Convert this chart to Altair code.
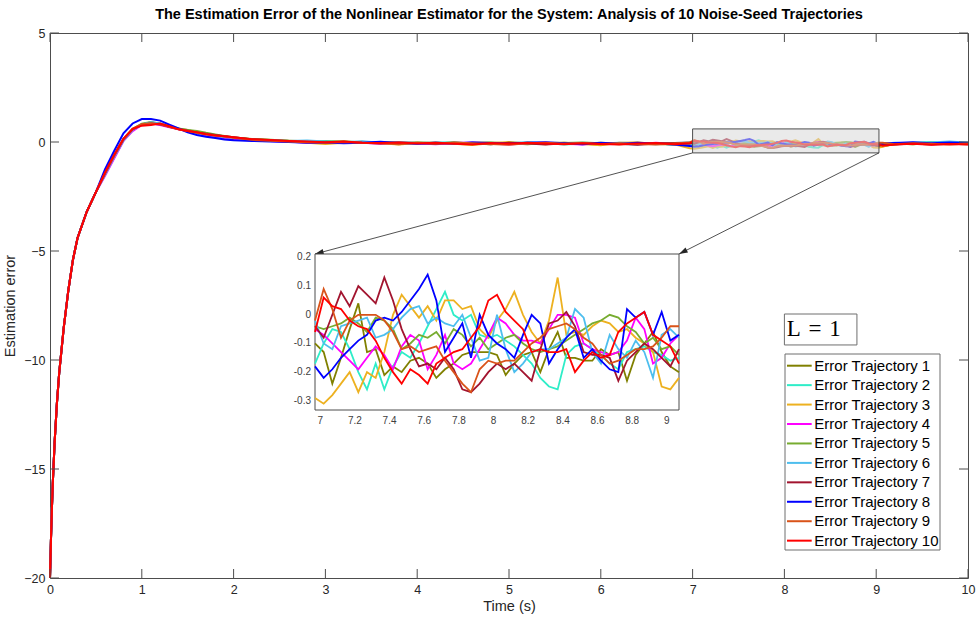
import math
import altair as alt
import pandas as pd

# ---------------- data ----------------
NAMES = [f"Error Trajectory {i}" for i in range(1, 11)]
COLORS = ["#808000", "#2EEDC8", "#EDB120", "#FF00FF", "#77AC30",
          "#4DBEEE", "#A2142F", "#0000FF", "#D95319", "#FF0000"]

# common initial transient (all trajectories start at -20)
HEAD_T = [0, 0.01, 0.02, 0.03, 0.05, 0.075, 0.1, 0.15, 0.2, 0.25, 0.3, 0.4, 0.5]
HEAD_E = [-20, -18.3, -16.9, -15.7, -13.8, -12.0, -10.6, -8.5, -6.8, -5.4, -4.4, -3.2, -2.3]

RISE_T = [0.6, 0.7, 0.8, 0.9, 1.0, 1.1, 1.2, 1.3, 1.4, 1.5, 1.6, 1.7, 1.8, 1.9, 2.0]
RISE = [
    [-1.45, -0.65, 0.10, 0.55, 0.80, 0.90, 0.82, 0.70, 0.60, 0.55, 0.45, 0.38, 0.30, 0.25, 0.20],
    [-1.50, -0.70, 0.05, 0.55, 0.78, 0.85, 0.80, 0.72, 0.60, 0.50, 0.42, 0.35, 0.30, 0.22, 0.18],
    [-1.45, -0.60, 0.12, 0.60, 0.82, 0.88, 0.85, 0.70, 0.62, 0.52, 0.45, 0.36, 0.30, 0.26, 0.20],
    [-1.55, -0.75, 0.05, 0.50, 0.78, 0.86, 0.78, 0.68, 0.58, 0.50, 0.40, 0.30, 0.22, 0.18, 0.12],
    [-1.40, -0.62, 0.15, 0.60, 0.84, 0.92, 0.84, 0.75, 0.62, 0.55, 0.50, 0.42, 0.35, 0.28, 0.22],
    [-1.50, -0.68, 0.08, 0.55, 0.80, 0.90, 0.85, 0.72, 0.60, 0.50, 0.40, 0.34, 0.28, 0.22, 0.20],
    [-1.45, -0.62, 0.12, 0.58, 0.80, 0.85, 0.80, 0.70, 0.60, 0.52, 0.44, 0.38, 0.32, 0.26, 0.22],
    [-1.25, -0.40, 0.40, 0.85, 1.05, 1.05, 0.98, 0.80, 0.62, 0.45, 0.32, 0.24, 0.18, 0.12, 0.08],
    [-1.42, -0.60, 0.15, 0.60, 0.82, 0.86, 0.82, 0.70, 0.58, 0.50, 0.42, 0.36, 0.30, 0.25, 0.20],
    [-1.40, -0.58, 0.15, 0.60, 0.75, 0.78, 0.85, 0.72, 0.58, 0.50, 0.45, 0.36, 0.30, 0.26, 0.22],
]

NOISE_T = [round(2.2 + 0.2 * k, 2) for k in range(24)]
NOISE = [
    [0.14, 0.09, 0.06, 0.03, 0.01, -0.02, 0.00, -0.04, -0.07, -0.03, -0.05, -0.09, -0.04, -0.02, -0.06, -0.10, -0.05, -0.03, -0.08, -0.11, -0.06, -0.04, -0.09, -0.12],
    [0.10, 0.06, 0.04, 0.00, 0.05, -0.01, -0.05, 0.00, -0.04, -0.08, -0.03, -0.01, -0.07, -0.04, -0.09, -0.02, -0.05, -0.11, -0.07, -0.03, -0.08, -0.12, -0.05, -0.13],
    [0.12, 0.07, 0.02, -0.03, -0.09, -0.04, 0.01, -0.06, -0.12, -0.05, -0.02, -0.08, -0.14, -0.06, 0.00, -0.07, -0.10, -0.03, -0.09, -0.15, -0.04, -0.02, -0.08, -0.10],
    [0.08, 0.05, 0.01, -0.02, -0.05, -0.01, -0.04, -0.08, -0.03, -0.06, -0.10, -0.05, -0.02, -0.07, -0.11, -0.06, -0.03, -0.08, -0.12, -0.05, -0.07, -0.10, -0.04, -0.09],
    [0.13, 0.10, 0.06, 0.04, 0.02, 0.03, -0.02, -0.01, -0.05, -0.02, -0.06, -0.03, -0.07, -0.10, -0.04, -0.06, -0.09, -0.05, -0.02, -0.06, -0.10, -0.07, -0.05, -0.08],
    [0.11, 0.08, 0.05, 0.07, 0.02, -0.01, 0.03, -0.03, -0.01, -0.05, -0.02, -0.06, -0.03, -0.08, -0.05, -0.01, -0.06, -0.09, -0.04, -0.07, -0.03, -0.06, -0.10, -0.05],
    [0.12, 0.08, 0.03, 0.00, -0.03, 0.01, -0.04, -0.07, -0.02, -0.05, -0.09, -0.04, -0.06, -0.10, -0.03, -0.07, -0.12, -0.06, -0.09, -0.04, -0.08, -0.13, -0.07, -0.05],
    [0.05, 0.02, 0.00, -0.04, -0.02, -0.06, -0.03, 0.01, -0.05, -0.08, -0.04, -0.07, -0.02, -0.05, -0.09, -0.04, -0.01, -0.06, -0.10, -0.05, -0.08, -0.03, -0.07, -0.11],
    [0.10, 0.06, 0.02, -0.01, -0.04, 0.00, -0.03, -0.06, -0.10, -0.04, -0.07, -0.02, -0.06, -0.09, -0.13, -0.06, -0.04, -0.08, -0.05, -0.10, -0.06, -0.09, -0.12, -0.07],
    [0.13, 0.09, 0.05, 0.02, -0.01, 0.02, -0.03, -0.05, -0.02, -0.07, -0.04, -0.08, -0.11, -0.05, -0.08, -0.03, -0.07, -0.10, -0.06, -0.09, -0.12, -0.07, -0.05, -0.10],
]

# zoomed window (also shown in the inset)
ZOOM_T = [round(6.97 + 0.05 * k, 2) for k in range(43)]
ZOOM = [
    [-0.10, -0.13, -0.24, -0.15, -0.05, 0.04, -0.13, -0.12, -0.21, -0.18, -0.20, -0.16, -0.15, -0.17, -0.22, -0.19, -0.17, -0.14, -0.13, -0.13, -0.13, -0.14, -0.21, -0.17, -0.14, -0.13, -0.20, -0.12, -0.06, -0.15, -0.15, -0.16, -0.16, -0.12, -0.14, -0.13, -0.23, -0.14, -0.10, -0.06, -0.13, -0.18, -0.20],
    [-0.17, -0.10, -0.05, -0.06, -0.12, -0.20, -0.26, -0.17, -0.26, -0.18, -0.13, -0.15, -0.10, -0.04, 0.02, 0.08, 0.00, -0.02, 0.00, -0.07, -0.08, -0.07, -0.09, -0.11, -0.14, -0.17, -0.22, -0.25, -0.26, -0.14, -0.11, -0.10, -0.12, -0.14, -0.17, -0.19, -0.13, -0.12, -0.11, -0.13, -0.14, -0.16, -0.15],
    [-0.29, -0.31, -0.28, -0.24, -0.20, -0.27, -0.20, -0.22, -0.13, 0.00, 0.07, 0.03, -0.01, 0.03, -0.02, 0.05, 0.05, 0.02, 0.03, -0.05, -0.08, -0.02, 0.02, 0.08, 0.00, -0.06, -0.10, -0.02, 0.13, -0.07, -0.06, -0.07, -0.04, -0.02, -0.03, -0.06, -0.05, -0.08, -0.10, -0.13, -0.25, -0.26, -0.22],
    [-0.05, -0.07, -0.10, -0.13, -0.16, -0.19, -0.15, -0.11, -0.14, -0.19, -0.11, -0.07, -0.09, -0.19, -0.14, -0.07, -0.17, -0.19, -0.17, -0.12, -0.07, -0.01, -0.03, -0.07, -0.09, -0.09, -0.10, -0.05, 0.00, 0.00, -0.01, -0.10, -0.12, -0.13, -0.14, -0.13, -0.09, -0.01, -0.05, -0.17, -0.15, -0.10, -0.07],
    [-0.04, -0.05, -0.04, -0.03, -0.01, -0.03, -0.06, -0.01, -0.02, -0.05, -0.12, -0.10, -0.07, -0.08, -0.06, -0.10, -0.05, -0.07, -0.11, -0.08, -0.12, -0.10, -0.08, -0.07, -0.10, -0.12, -0.13, -0.12, -0.11, -0.09, -0.07, -0.05, -0.03, -0.02, 0.00, -0.01, -0.04, -0.06, -0.10, -0.08, -0.12, -0.11, -0.14],
    [-0.02, -0.10, -0.12, -0.04, -0.03, -0.02, -0.01, -0.08, -0.07, -0.05, -0.01, 0.02, 0.03, -0.03, -0.01, -0.03, -0.04, 0.00, -0.08, -0.16, -0.15, 0.00, -0.12, -0.20, -0.17, -0.13, -0.12, -0.12, -0.10, -0.08, 0.02, -0.01, -0.13, -0.17, -0.07, -0.12, -0.15, -0.09, -0.13, -0.22, -0.07, -0.05, -0.08],
    [-0.04, -0.08, 0.00, 0.08, 0.03, 0.10, 0.07, 0.04, 0.13, 0.05, -0.05, -0.12, -0.18, -0.17, -0.19, -0.15, -0.19, -0.26, -0.27, -0.24, -0.20, -0.17, -0.19, -0.17, -0.20, -0.23, -0.12, -0.03, -0.02, 0.01, -0.04, -0.13, -0.14, -0.14, -0.15, -0.23, -0.16, -0.13, -0.10, -0.12, -0.15, -0.18, -0.12],
    [-0.18, -0.22, -0.19, -0.15, -0.12, -0.09, -0.07, -0.02, -0.01, -0.02, 0.01, 0.05, 0.09, 0.14, 0.05, -0.13, -0.08, -0.03, -0.15, 0.00, -0.07, -0.10, -0.12, -0.15, -0.07, 0.00, -0.03, -0.17, -0.12, -0.08, -0.05, -0.15, -0.12, -0.16, -0.19, -0.20, 0.02, -0.01, 0.01, -0.07, 0.01, -0.09, -0.07],
    [-0.02, 0.09, 0.02, -0.08, -0.02, 0.00, 0.00, 0.00, -0.02, -0.06, -0.12, -0.11, -0.13, -0.12, -0.11, -0.16, -0.20, -0.24, -0.27, -0.19, -0.16, -0.17, -0.16, -0.16, -0.13, -0.10, -0.08, -0.05, -0.04, -0.03, -0.05, -0.08, -0.10, -0.14, -0.17, -0.16, -0.14, -0.12, -0.12, -0.11, -0.08, -0.04, -0.04],
    [-0.06, 0.06, 0.03, 0.02, -0.02, -0.04, -0.05, -0.09, -0.15, -0.20, -0.24, -0.19, -0.21, -0.24, -0.17, -0.15, -0.13, -0.12, -0.08, -0.04, 0.05, 0.07, 0.01, -0.02, -0.05, -0.13, -0.12, -0.13, -0.13, -0.12, -0.20, -0.16, -0.13, -0.15, -0.14, -0.06, -0.03, -0.01, 0.01, -0.07, -0.09, -0.11, -0.17],
]

TAIL_T = [9.2, 9.4, 9.6, 9.8, 10.0]
TAIL = [
    [-0.10, -0.06, -0.09, -0.05, -0.08],
    [-0.08, -0.03, 0.00, -0.04, -0.02],
    [-0.06, -0.10, -0.04, -0.07, -0.05],
    [-0.09, -0.05, -0.10, -0.06, -0.04],
    [-0.07, -0.10, -0.05, -0.08, -0.06],
    [-0.03, -0.07, -0.02, 0.02, -0.03],
    [-0.11, -0.07, -0.12, -0.08, -0.10],
    [-0.05, -0.01, -0.06, -0.02, -0.05],
    [-0.10, -0.06, -0.08, -0.12, -0.07],
    [-0.12, -0.08, -0.13, -0.09, -0.11],
]

X_TICKS = list(range(0, 11))
Y_TICKS = [-20, -15, -10, -5, 0, 5]
XI_TICKS = [7, 7.2, 7.4, 7.6, 7.8, 8, 8.2, 8.4, 8.6, 8.8, 9]
XI_LABELS = ["7", "7.2", "7.4", "7.6", "7.8", "8", "8.2", "8.4", "8.6", "8.8", "9"]
YI_TICKS = [-0.3, -0.2, -0.1, 0, 0.1, 0.2]
YI_LABELS = ["-0.3", "-0.2", "-0.1", "0", "0.1", "0.2"]

TITLE = "The Estimation Error of the Nonlinear Estimator for the System: Analysis of 10 Noise-Seed Trajectories"
L_TEXT = "L\u2004=\u20041"

# ---------------- layout constants ----------------
W, H = 918, 545
XDOM, YDOM = [0, 10], [-20, 5]
ZOOM_BOX = dict(x=7.0, x2=9.03, y=-0.5, y2=0.6)       # highlighted region (main coords)
XI_DOM, YI_DOM = [6.97, 9.07], [-0.332, 0.212]       # inset domains
XI_RANGE, YI_RANGE = [265, 629], [377, 221]          # inset placement (px inside plot)
LBOX = dict(x=8.0, x2=8.79, y=-9.31, y2=-7.89)
L_POS = dict(x=8.32, y=-8.6)
LEG_BOX_PX = (735, 321, 890, 517)                    # legend frame (px inside plot)
LEG_ROW0, LEG_STEP = 332.7, 19.44                    # legend rows (px)
LEG_SYM_PX, LEG_LAB_PX = (737, 761.7), 764.3
TICK = 9


def px_to_main(px, py):
    return XDOM[0] + px / W * (XDOM[1] - XDOM[0]), YDOM[1] - py / H * (YDOM[1] - YDOM[0])


def main_to_px(x, y):
    return (x - XDOM[0]) / (XDOM[1] - XDOM[0]) * W, (YDOM[1] - y) / (YDOM[1] - YDOM[0]) * H


# linear maps from inset data units to main data units (x_m = ax*t + bx, y_m = ay*e + by)
x0m, y0m = px_to_main(XI_RANGE[0], YI_RANGE[0])
x1m, y1m = px_to_main(XI_RANGE[1], YI_RANGE[1])
AXI = (x1m - x0m) / (XI_DOM[1] - XI_DOM[0])
BXI = x0m - AXI * XI_DOM[0]
AYI = (y1m - y0m) / (YI_DOM[1] - YI_DOM[0])
BYI = y0m - AYI * YI_DOM[0]


def ix(field):
    return f"{AXI!r}*datum.{field}+{BXI!r}"


def iy(field):
    return f"{AYI!r}*datum.{field}+{BYI!r}"


# ---------------- tables ----------------
rows = []
for i, n in enumerate(NAMES):
    ts = HEAD_T + RISE_T + NOISE_T + ZOOM_T + TAIL_T
    es = HEAD_E + RISE[i] + NOISE[i] + ZOOM[i] + TAIL[i]
    for t, e in zip(ts, es):
        rows.append({"t": t, "e": e, "name": n})
main_df = pd.DataFrame(rows)

zrows = []
for i, n in enumerate(NAMES):
    for t, e in zip(ZOOM_T, ZOOM[i]):
        zrows.append({"t": t, "e": e, "name": n})
zoom_df = pd.DataFrame(zrows)

ends = [(x0m, y1m), (x1m, y1m)]
starts = [(ZOOM_BOX["x"], ZOOM_BOX["y"]), (ZOOM_BOX["x2"], ZOOM_BOX["y"])]
arr = []
for (sx, sy), (ex, ey) in zip(starts, ends):
    p0, p1 = main_to_px(sx, sy), main_to_px(ex, ey)
    dx, dy = p1[0] - p0[0], p1[1] - p0[1]
    ang = math.degrees(math.atan2(dx, -dy)) % 360
    arr.append({"x": sx, "y": sy, "x2": ex, "y2": ey, "ang": ang})
arrow_df = pd.DataFrame(arr)

# legend table
lx0, ly0 = px_to_main(LEG_BOX_PX[0], LEG_BOX_PX[1])
lx1, ly1 = px_to_main(LEG_BOX_PX[2], LEG_BOX_PX[3])
leg_box_df = pd.DataFrame([{"x": lx0, "x2": lx1, "y": ly1, "y2": ly0}])
sx0, _ = px_to_main(LEG_SYM_PX[0], 0)
sx1, _ = px_to_main(LEG_SYM_PX[1], 0)
labx, _ = px_to_main(LEG_LAB_PX, 0)
leg_rows = []
for i, n in enumerate(NAMES):
    _, yy = px_to_main(0, LEG_ROW0 + LEG_STEP * i)
    leg_rows.append({"name": n, "sx": sx0, "sx2": sx1, "lx": labx, "y": yy})
leg_df = pd.DataFrame(leg_rows)

# ---------------- encodings ----------------
XS = alt.Scale(domain=XDOM, nice=False, zero=False)
YS = alt.Scale(domain=YDOM, nice=False, zero=False)
COLOR = alt.Color("name:N", scale=alt.Scale(domain=NAMES, range=COLORS), legend=None)

AX = dict(tickSize=0, domain=False, grid=False, labelFlush=False, labelFont="Liberation Sans",
          titleFont="Liberation Sans", labelFontSize=12.5, titleFontSize=14.5,
          labelColor="#262626", titleColor="#262626", titleFontWeight="normal", format="d")

lines = alt.Chart(main_df).mark_line(strokeWidth=2).encode(
    x=alt.X("t:Q", scale=XS, axis=alt.Axis(values=X_TICKS, labelPadding=5,
                                           title="Time (s)", titlePadding=4, **AX)),
    y=alt.Y("e:Q", scale=YS, axis=alt.Axis(values=Y_TICKS, labelPadding=5,
                                           title="Estimation error", titlePadding=6, **AX)),
    color=COLOR,
)

box = alt.Chart(pd.DataFrame([ZOOM_BOX])).mark_rect(
    fill="#d9d9d9", fillOpacity=0.55, stroke="#4d4d4d", strokeWidth=1).encode(
    x=alt.X("x:Q", scale=XS), x2="x2:Q",
    y=alt.Y("y:Q", scale=YS), y2="y2:Q")

arrows = alt.Chart(arrow_df).mark_rule(color="#262626", strokeWidth=0.8).encode(
    x=alt.X("x:Q", scale=XS), x2="x2:Q",
    y=alt.Y("y:Q", scale=YS), y2="y2:Q")

heads = alt.Chart(arrow_df).mark_point(shape="M0,0L-0.32,1L0.32,1Z", filled=True,
                                       size=300, color="#262626", opacity=1).encode(
    x=alt.X("x2:Q", scale=XS),
    y=alt.Y("y2:Q", scale=YS),
    angle=alt.Angle("ang:Q", scale=None))

xt = pd.DataFrame({"xv": X_TICKS})
yt = pd.DataFrame({"yv": Y_TICKS})
tick_style = dict(color="#4d4d4d", strokeWidth=1)
tb = alt.Chart(xt).mark_rule(**tick_style).encode(
    x=alt.X("xv:Q", scale=XS), y=alt.value(H), y2=alt.value(H - TICK))
tt = alt.Chart(xt).mark_rule(**tick_style).encode(
    x=alt.X("xv:Q", scale=XS), y=alt.value(0), y2=alt.value(TICK))
tl = alt.Chart(yt).mark_rule(**tick_style).encode(
    y=alt.Y("yv:Q", scale=YS), x=alt.value(0), x2=alt.value(TICK))
tr = alt.Chart(yt).mark_rule(**tick_style).encode(
    y=alt.Y("yv:Q", scale=YS), x=alt.value(W), x2=alt.value(W - TICK))

lbox = alt.Chart(pd.DataFrame([LBOX])).mark_rect(
    fill="white", stroke="#6e6e6e", strokeWidth=1).encode(
    x=alt.X("x:Q", scale=XS), x2="x2:Q",
    y=alt.Y("y:Q", scale=YS), y2="y2:Q")
ltext = alt.Chart(pd.DataFrame([{**L_POS, "s": L_TEXT}])).mark_text(
    font="Liberation Serif", fontSize=23, color="black", baseline="middle", align="center").encode(
    x=alt.X("x:Q", scale=XS), y=alt.Y("y:Q", scale=YS), text="s:N")

# ---------------- inset (inset units mapped into the main frame) ----------------
frame = alt.Chart(pd.DataFrame([{"a": XI_DOM[0], "b": XI_DOM[1], "c": YI_DOM[0], "d": YI_DOM[1]}])).transform_calculate(
    xa=ix("a"), xb=ix("b"), yc=iy("c"), yd=iy("d")).mark_rect(
    fill="white", stroke="#4d4d4d", strokeWidth=1).encode(
    x=alt.X("xa:Q", scale=XS), x2="xb:Q",
    y=alt.Y("yc:Q", scale=YS), y2="yd:Q")

ilines = alt.Chart(zoom_df).transform_calculate(xm=ix("t"), ym=iy("e")).mark_line(strokeWidth=1.8).encode(
    x=alt.X("xm:Q", scale=XS),
    y=alt.Y("ym:Q", scale=YS),
    color=COLOR)

ixl = alt.Chart(pd.DataFrame({"v": XI_TICKS, "lab": XI_LABELS, "yb": YI_DOM[0]})).transform_calculate(
    xm=ix("v"), ym=iy("yb")).mark_text(
    dy=11, fontSize=10, font="Liberation Sans", color="#404040", baseline="middle").encode(
    x=alt.X("xm:Q", scale=XS), y=alt.Y("ym:Q", scale=YS), text="lab:N")

iyl = alt.Chart(pd.DataFrame({"v": YI_TICKS, "lab": YI_LABELS, "xl": XI_DOM[0]})).transform_calculate(
    xm=ix("xl"), ym=iy("v")).mark_text(
    dx=-4, align="right", fontSize=10, font="Liberation Sans", color="#404040", baseline="middle").encode(
    x=alt.X("xm:Q", scale=XS), y=alt.Y("ym:Q", scale=YS), text="lab:N")

# ---------------- legend ----------------
legbox = alt.Chart(leg_box_df).mark_rect(fill="white", stroke="#6e6e6e", strokeWidth=1).encode(
    x=alt.X("x:Q", scale=XS), x2="x2:Q", y=alt.Y("y:Q", scale=YS), y2="y2:Q")
legsym = alt.Chart(leg_df).mark_rule(strokeWidth=2).encode(
    x=alt.X("sx:Q", scale=XS), x2="sx2:Q", y=alt.Y("y:Q", scale=YS), color=COLOR)
leglab = alt.Chart(leg_df).mark_text(align="left", baseline="middle", fontSize=15,
                                     font="Liberation Sans", color="black").encode(
    x=alt.X("lx:Q", scale=XS), y=alt.Y("y:Q", scale=YS), text="name:N")

chart = alt.layer(lines, box, arrows, heads, tb, tt, tl, tr, lbox, ltext,
                  frame, ilines, ixl, iyl, legbox, legsym, leglab).properties(
    width=W, height=H,
    title=alt.TitleParams(text=TITLE, fontSize=14.5, font="Liberation Sans", fontWeight="bold",
                          color="black", anchor="middle", offset=5),
    padding={"left": 50, "top": 33, "right": 11, "bottom": 45},
    autosize=alt.AutoSizeParams(type="none"),
).configure_view(stroke="#4d4d4d", strokeWidth=1)

chart.save("out.html", embed_options={"renderer": "svg", "actions": False})
